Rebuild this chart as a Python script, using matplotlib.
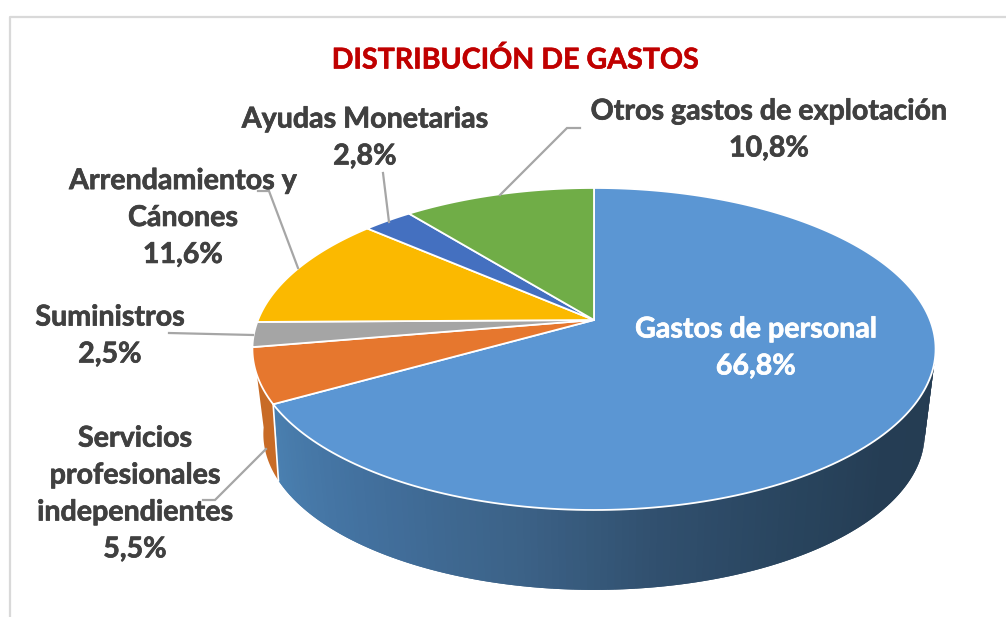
#3D looking pie of the expense distribution, drawn as projected polygons on a pixel sized axes.

import matplotlib
matplotlib.use('Agg')
import matplotlib.pyplot as plt
import matplotlib.patheffects as pe
import numpy as np

plt.rcParams['font.family'] = ['Lato', 'DejaVu Sans']

labels = ['Gastos de personal', 'Servicios\nprofesionales\nindependientes', 'Suministros',
          'Arrendamientos y\nCánones', 'Ayudas Monetarias', 'Otros gastos de explotación']
values = [66.8, 5.5, 2.5, 11.6, 2.8, 10.8]
colors = ['#5b96d3', '#e6772e', '#a5a5a5', '#fbb900', '#4470c0', '#70ad47']
label_pos = [(756, 348), (135, 494), (110, 336), (183, 218), (365, 138), (769, 130)]
label_colors = ['white', '#404040', '#404040', '#404040', '#404040', '#404040']

# wall shading of the blue slice, going around clockwise from the top
wall_angles = [95, 130, 150, 170, 190, 215, 241]
wall_colors = [(0.145, 0.235, 0.32), (0.145, 0.24, 0.33), (0.16, 0.27, 0.37), (0.19, 0.31, 0.43),
               (0.235, 0.385, 0.53), (0.26, 0.44, 0.62), (0.29, 0.50, 0.69)]
orange_wall = '#c86b26'

# leader lines
leaders = [[(500, 195), (567, 128), (580, 128)],
           [(383, 173), (389, 222)],
           [(258, 191), (269, 191), (298, 268)],
           [(169, 333), (253, 335)],
           [(203, 500), (215, 500), (266, 449)]]

# perspective of the disc
k = 0.18
a = 336
b = 155.8


def rim(deg, cx, cy, s=1.0):
    t = np.radians(deg)
    u = np.sin(t)
    v = np.cos(t)
    d = 1 + k * v
    return cx + s * a * u / d, cy - s * b * v / d


fig = plt.figure(figsize=(10.06, 6.17), dpi=100)
ax = fig.add_axes([0, 0, 1, 1])
ax.set_xlim(0, 1006)
ax.set_ylim(617, 0)
ax.axis('off')

# chart frame, only top and left are in the crop
ax.plot([10, 10, 1006], [617, 17, 17], color='#d9d9d9', lw=1.6)

cx, cy = 594, 320
bx, by, bs = 594, 406, 0.968

edges = np.concatenate([[0], np.cumsum(values)]) * 360 / sum(values)
seam = edges[1] + 2.5  # the blue/orange split sits a bit further round on the lower rim

# side walls first, each step overlaps the next so there are no seams
for d in np.arange(95, seam, 1.0):
    top = np.array([d, min(d + 2, edges[1])])
    low = np.array([min(d + 2, seam), d])
    x1, y1 = rim(top, cx, cy)
    x2, y2 = rim(low, bx, by, bs)
    c = [np.interp(d, wall_angles, [w[i] for w in wall_colors]) for i in range(3)]
    ax.fill(np.r_[x1, x2], np.r_[y1, y2], facecolor=c, edgecolor='none', zorder=2)

x1, y1 = rim(np.linspace(edges[1], 262, 30), cx, cy)
x2, y2 = rim(np.linspace(262, seam, 30), bx, by, bs)
ax.fill(np.r_[x1, x2], np.r_[y1, y2], facecolor=orange_wall, edgecolor='none', zorder=2)

# white line where blue and orange walls meet
x1, y1 = rim(edges[1], cx, cy)
x2, y2 = rim(seam, bx, by, bs)
ax.plot([x1, x2], [y1, y2], color='white', lw=1.2, zorder=3)

# top face
for i in range(len(values)):
    t = np.linspace(edges[i], edges[i + 1], 200)
    x, y = rim(t, cx, cy)
    ax.fill(np.r_[cx, x], np.r_[cy, y], facecolor=colors[i], edgecolor='white', lw=1.3, joinstyle='round', zorder=4)

for line in leaders:
    ax.plot([p[0] for p in line], [p[1] for p in line], color='#a6a6a6', lw=1.6, zorder=5, solid_joinstyle='miter')

for i in range(len(values)):
    txt = labels[i] + '\n' + ('%.1f%%' % values[i]).replace('.', ',')
    t = ax.text(label_pos[i][0], label_pos[i][1], txt, color=label_colors[i], fontsize=20.6, fontweight='bold',
                ha='center', va='center', linespacing=1.52, zorder=6)
    t.set_path_effects([pe.withStroke(linewidth=0.5, foreground=label_colors[i])])

t = ax.text(515, 60, 'DISTRIBUCIÓN DE GASTOS', color='#c00000', fontsize=20.6, fontweight='bold',
            ha='center', va='center', zorder=6)
t.set_path_effects([pe.withStroke(linewidth=0.4, foreground='#c00000')])

fig.savefig('out.png', dpi=100)
